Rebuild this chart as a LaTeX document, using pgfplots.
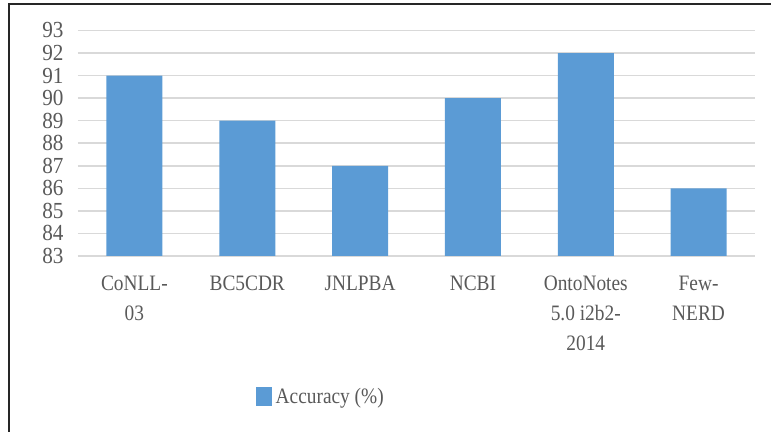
\documentclass[border=0pt]{standalone}
\usepackage{pgfplots}
\pgfplotsset{compat=1.18}
\usepackage{fontspec}
\setmainfont{Liberation Serif}
\definecolor{barblue}{HTML}{5B9BD5}
\definecolor{gridgray}{HTML}{D9D9D9}
\definecolor{txtgray}{HTML}{595959}
\begin{document}
\begin{tikzpicture}
\useasboundingbox (0,0) rectangle (385.5pt,216pt);
\clip (0,0) rectangle (385.5pt,216pt);
\draw[line width=1.1pt, black!85] (4.5pt,-20pt) rectangle (420pt,214pt);
\begin{axis}[
  at={(39pt,88pt)}, anchor=south west,
  scale only axis,
  width=338.5pt, height=112.75pt,
  xmin=-0.5, xmax=5.5,
  ymin=83, ymax=93,
  ytick={83,84,...,93},
  xtick={0,1,2,3,4,5},
  xticklabels={{CoNLL-\\03},{BC5CDR},{JNLPBA},{NCBI},{OntoNotes\\5.0 i2b2-\\2014},{Few-\\NERD}},
  axis line style={draw=none},
  tick style={draw=none},
  ymajorgrids,
  grid style={gridgray, line width=0.8pt},
  /pgf/number format/assume math mode=true,
  yticklabel style={font=\fontsize{11.5}{11.5}\selectfont, text=txtgray, xshift=-4pt, xscale=0.92, transform shape},
  xticklabel style={font=\fontsize{11}{15}\selectfont, text=txtgray, align=center, yshift=-6.5pt, xscale=0.88, transform shape},
  legend style={at={(0.36,-0.625)}, anchor=center, draw=none, font=\fontsize{11}{12}\selectfont, text=txtgray, inner sep=0pt,
    nodes={xscale=0.88, transform shape}},
  legend image code/.code={\fill[barblue] (0pt,-4.75pt) rectangle (8pt,4.75pt);},
]
\addplot[ybar, bar width=28pt, fill=barblue, draw=none, bar shift=0pt] coordinates {(0,91) (1,89) (2,87) (3,90) (4,92) (5,86)};
\addlegendentry{Accuracy (\%)}
\end{axis}
\end{tikzpicture}
\end{document}
